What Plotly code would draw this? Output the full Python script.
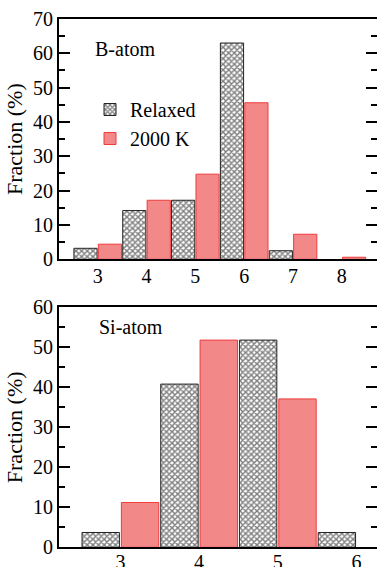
import plotly.graph_objects as go

# Top panel: B-atom coordination
b_coord = [3, 4, 5, 6, 7, 8]
b_relaxed = [3.2, 14.2, 17.2, 63.0, 2.5, None]
b_2000k = [4.4, 17.2, 24.8, 45.6, 7.3, 0.6]

# Bottom panel: Si-atom coordination
si_coord = [3, 4, 5, 6]
si_relaxed = [3.7, 40.8, 51.8, 3.7]
si_2000k = [11.2, 51.8, 37.1, None]

FONT = "Liberation Serif"
W, H = 377, 567

hatch = dict(shape="x", fgcolor="black", bgcolor="white", size=4, solidity=0.6)
red_fill = "#f28888"
red_line = "#ee3c3c"

fig = go.Figure()

fig.add_trace(go.Bar(x=b_coord, y=b_relaxed, name="Relaxed", xaxis="x", yaxis="y",
                     marker=dict(color="white", pattern=hatch,
                                 line=dict(color="#222222", width=1))))
fig.add_trace(go.Bar(x=b_coord, y=b_2000k, name="2000 K", xaxis="x", yaxis="y",
                     marker=dict(color=red_fill, line=dict(color=red_line, width=1))))
fig.add_trace(go.Bar(x=si_coord, y=si_relaxed, name="Relaxed", xaxis="x2", yaxis="y2",
                     marker=dict(color="white", pattern=hatch,
                                 line=dict(color="#222222", width=1)),
                     showlegend=False))
fig.add_trace(go.Bar(x=si_coord, y=si_2000k, name="2000 K", xaxis="x2", yaxis="y2",
                     marker=dict(color=red_fill, line=dict(color=red_line, width=1)),
                     showlegend=False))

def yax(dom, rng, anchor):
    return dict(domain=dom, range=rng, anchor=anchor, tickmode="linear", dtick=10, tick0=0,
                ticks="inside", ticklen=11, tickwidth=2, tickcolor="black",
                minor=dict(ticks="inside", ticklen=6, tickwidth=2, dtick=5, tickcolor="black"),
                showline=True, linecolor="black", linewidth=2, mirror="ticks",
                showgrid=False, zeroline=False, automargin=False,
                tickfont=dict(family=FONT, size=20, color="black"),
                title=dict(text="Fraction (%)", font=dict(family=FONT, size=22, color="black"),
                           standoff=4))

def xax(rng, vals, anchor, standoff):
    return dict(range=rng, anchor=anchor, tickmode="array", tickvals=vals,
                ticktext=[str(v) for v in vals], ticks="", ticklabelstandoff=standoff,
                showline=True, linecolor="black", linewidth=2, mirror=True,
                showgrid=False, zeroline=False, automargin=False,
                tickfont=dict(family=FONT, size=20, color="black"))

fig.update_layout(
    width=W, height=H,
    margin=dict(l=59, r=0, t=0, b=0, autoexpand=False),
    paper_bgcolor="white", plot_bgcolor="white",
    barmode="group", bargap=0.0, bargroupgap=0.05,
    font=dict(family=FONT, color="black"),
    xaxis=xax([2.207, 8.72], b_coord, "y", -2),
    yaxis=yax([1 - 259.3 / H, 1 - 19 / H], [0, 70], "x"),
    xaxis2=xax([2.22, 6.26], si_coord, "y2", -4),
    yaxis2=yax([1 - 547.3 / H, 1 - 307.3 / H], [0, 60], "x2"),
    legend=dict(x=(90 - 59) / (W - 59), y=1 - 90 / H, xanchor="left", yanchor="top",
                bgcolor="rgba(0,0,0,0)", font=dict(family=FONT, size=20, color="black"),
                tracegroupgap=0, itemwidth=30),
    annotations=[
        dict(text="B-atom", xref="paper", yref="paper", x=(93 - 59) / (W - 59),
             y=1 - 49 / H, xanchor="left", yanchor="middle", showarrow=False,
             font=dict(family=FONT, size=20, color="black")),
        dict(text="Si-atom", xref="paper", yref="paper", x=(97 - 59) / (W - 59),
             y=1 - 327 / H, xanchor="left", yanchor="middle", showarrow=False,
             font=dict(family=FONT, size=20, color="black")),
    ],
)

fig.write_html("out.html")
